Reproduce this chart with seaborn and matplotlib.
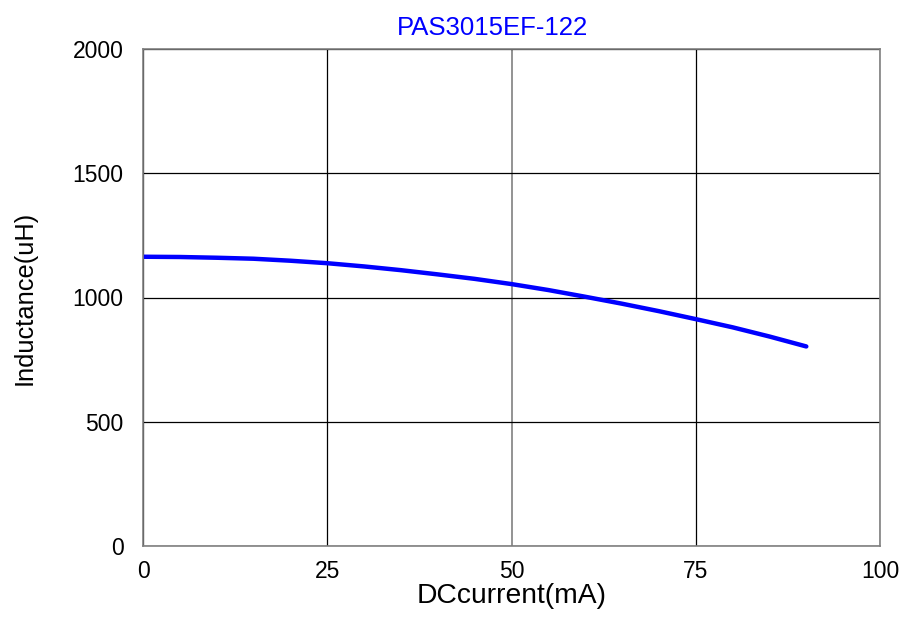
import matplotlib
matplotlib.use("Agg")
import matplotlib.pyplot as plt
import seaborn as sns
import pandas as pd

current_ma = [0, 5, 10, 15, 20, 25, 30, 35, 40, 45, 50, 55, 60, 65, 70, 75, 80, 85, 90]
inductance_uh = [1164, 1163, 1160, 1156, 1148, 1138, 1125, 1110, 1093, 1075, 1054,
                 1030, 1003, 975, 945, 913, 880, 843, 803]
x_ticks = [0, 25, 50, 75, 100]
y_ticks = [0, 500, 1000, 1500, 2000]

sns.set_style("white")
plt.rcParams['font.family'] = ['Liberation Sans', 'DejaVu Sans']

df = pd.DataFrame({"x": current_ma, "y": inductance_uh})

fig = plt.figure(figsize=(9.05, 6.18), dpi=100)
ax = fig.add_axes([143/905, 1 - 546/618, (880-143)/905, (546-49)/618])

sns.lineplot(data=df, x="x", y="y", ax=ax, color="#0000ff", linewidth=3.2)

ax.set_xlim(0, 100)
ax.set_ylim(0, 2000)
ax.set_xticks(x_ticks)
ax.set_yticks(y_ticks)
ax.grid(True, color="black", linewidth=0.9)
ax.set_axisbelow(True)
ax.get_xgridlines()[2].set_color("#808080")
ax.get_xgridlines()[2].set_linewidth(1.2)
for s in ax.spines.values():
    s.set_color("#808080")
    s.set_linewidth(1.2)
ax.tick_params(axis="both", labelsize=16.5, direction="in", length=9, width=1.2,
               color="#404040", labelcolor="black")
ax.tick_params(axis="x", pad=10)
ax.tick_params(axis="y", pad=14)
ax.set_xlabel("DCcurrent(mA)", fontsize=20.3, labelpad=0, color="black")
ax.set_ylabel("Inductance(uH)", fontsize=18.3, labelpad=26, color="black")
ax.set_title("PAS3015EF-122", fontsize=18.5, color="#0000ff", pad=10,
             x=(492 - 143) / 737)

fig.savefig("out.png", dpi=100)
